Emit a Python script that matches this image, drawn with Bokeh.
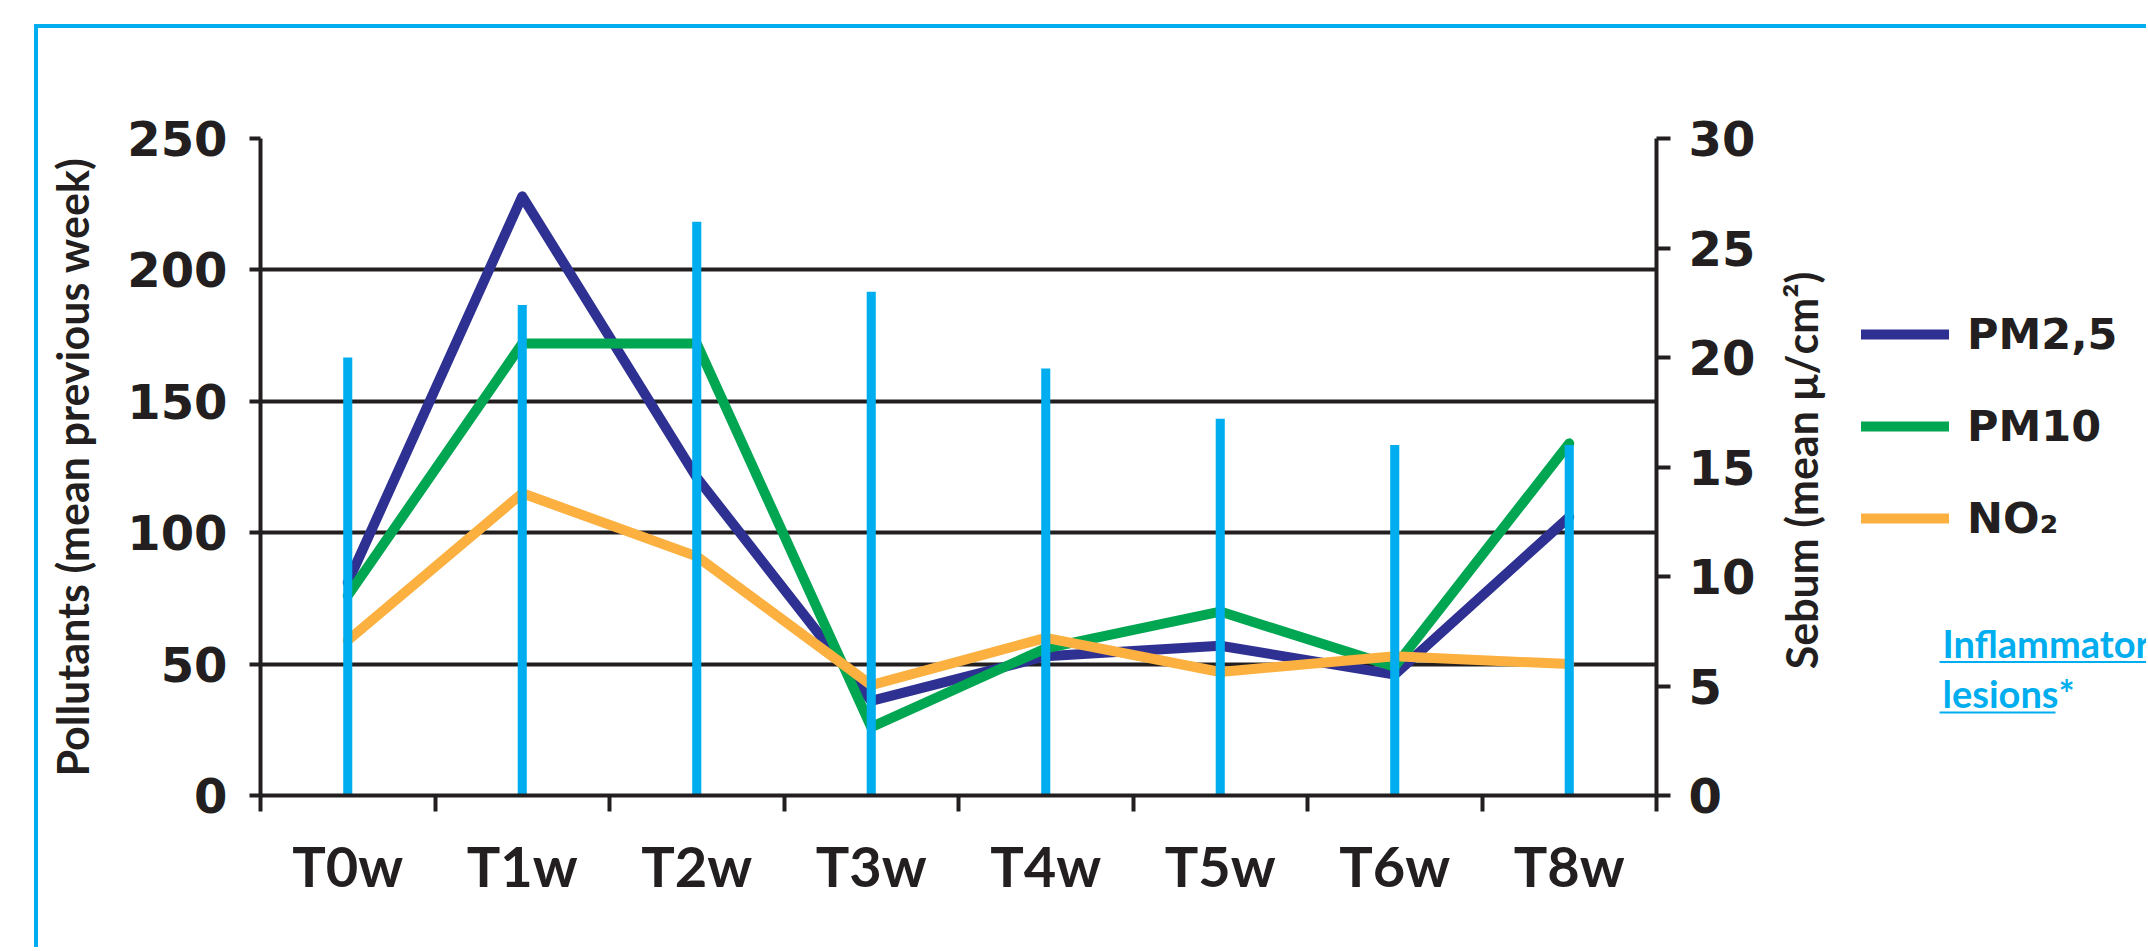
import math
from bokeh.plotting import figure
from bokeh.layouts import row, column
from bokeh.models import (Range1d, LinearAxis, FixedTicker, Legend, LegendItem,
                          Label, BoxAnnotation, Grid, Spacer)
from bokeh.embed import file_html
from bokeh.resources import INLINE

# ---------------- data ----------------
categories = ["T0w", "T1w", "T2w", "T3w", "T4w", "T5w", "T6w", "T8w"]
pm25 = [81, 228, 121, 36, 53, 57, 46, 106]
pm10 = [76, 172, 172, 26, 56, 70, 49, 134]
no2 = [59, 115, 91, 42, 60, 47, 53, 50]
sebum = [20.0, 22.4, 26.2, 23.0, 19.5, 17.2, 16.0, 16.0]
left_ticks = [0, 50, 100, 150, 200, 250]
right_ticks = [0, 5, 10, 15, 20, 25, 30]
series_names = ["PM2,5", "PM10", "NO₂"]
series_colors = ["#2E3192", "#00A651", "#FBB040"]

# ---------------- style ----------------
DARK = "#231F20"
BLUE = "#00AEEF"
NCAT = len(categories)
YMAX = 250
LW = 10

# page geometry
X0, Y0 = 38, 28           # top-left of the chart area (inside blue frame)
WA, HT = 1726, 919
WB = 2146 - X0 - WA
FL, FR, FT, FB = 222, 1618, 110, 767   # frame edges in figure A (canvas px)

# ---------------- main chart ----------------
pA = figure(width=WA, height=HT, x_range=Range1d(0, NCAT), y_range=Range1d(0, YMAX),
            output_backend="svg", toolbar_location=None,
            x_axis_type=None, y_axis_type=None,
            min_border_left=FL, min_border_right=WA - FR,
            min_border_top=FT, min_border_bottom=HT - FB)
pA.outline_line_color = None
pA.extra_y_ranges = {"sebum": Range1d(0, 30)}

xs = [i + 0.5 for i in range(NCAT)]

xaxis = LinearAxis(ticker=FixedTicker(ticks=xs, minor_ticks=list(range(NCAT + 1))),
                   major_label_overrides={x: c for x, c in zip(xs, categories)})
xaxis.major_tick_out = 0
xaxis.major_tick_in = 0
xaxis.minor_tick_out = 16
xaxis.minor_tick_in = 0
xaxis.minor_tick_line_width = 4
xaxis.minor_tick_line_color = DARK
xaxis.axis_line_color = DARK
xaxis.axis_line_width = 4
xaxis.major_label_standoff = 20
xaxis.major_label_text_font = "Lato"
xaxis.major_label_text_font_style = "bold"
xaxis.major_label_text_font_size = "56px"
xaxis.major_label_text_color = DARK
pA.add_layout(xaxis, "below")

yaxis = LinearAxis(ticker=FixedTicker(ticks=left_ticks),
                   axis_label="Pollutants (mean previous week)")
yaxis.major_tick_out = 11
yaxis.major_tick_in = 0
yaxis.minor_tick_out = 0
yaxis.minor_tick_in = 0
yaxis.major_tick_line_width = 4
yaxis.major_tick_line_color = DARK
yaxis.axis_line_color = DARK
yaxis.axis_line_width = 4
yaxis.major_label_standoff = 22
yaxis.major_label_text_font = "DejaVu Sans"
yaxis.major_label_text_font_style = "bold"
yaxis.major_label_text_font_size = "48px"
yaxis.major_label_text_color = DARK
yaxis.axis_label_standoff = 26
yaxis.axis_label_text_font = "Lato"
yaxis.axis_label_text_font_style = "bold"
yaxis.axis_label_text_font_size = "43px"
yaxis.axis_label_text_color = DARK
pA.add_layout(yaxis, "left")

raxis = LinearAxis(y_range_name="sebum", ticker=FixedTicker(ticks=right_ticks))
raxis.major_tick_out = 14
raxis.major_tick_in = 0
raxis.minor_tick_out = 0
raxis.minor_tick_in = 0
raxis.major_tick_line_width = 4
raxis.major_tick_line_color = DARK
raxis.axis_line_color = DARK
raxis.axis_line_width = 4
raxis.major_label_standoff = 18
raxis.major_label_text_font = "DejaVu Sans"
raxis.major_label_text_font_style = "bold"
raxis.major_label_text_font_size = "48px"
raxis.major_label_text_color = DARK
pA.add_layout(raxis, "right")

pA.add_layout(Grid(dimension=1, ticker=yaxis.ticker, grid_line_color=DARK,
                   grid_line_width=4))

for vals, col in zip([pm25, pm10, no2], series_colors):
    pA.line(xs, vals, line_color=col, line_width=LW,
            line_join="round", line_cap="round")

pA.vbar(x=xs, top=sebum, bottom=0, width=0.052, y_range_name="sebum",
        fill_color=BLUE, line_color=None)

# ---------------- side panel (legend, right title, note) ----------------
# frame of the side panel shares the vertical extent of the main frame
XB = X0 + WA                 # page x of side panel
PAGE_FT, PAGE_FB = Y0 + FT, Y0 + FB   # page y of frame top / bottom
FH = PAGE_FB - PAGE_FT


def bx(page_x):
    return page_x - XB


def by(page_y):
    return PAGE_FB - page_y


pB = figure(width=WB, height=HT, x_range=Range1d(0, WB), y_range=Range1d(0, FH),
            output_backend="svg", toolbar_location=None,
            x_axis_type=None, y_axis_type=None,
            min_border_left=0, min_border_right=0,
            min_border_top=FT, min_border_bottom=HT - FB)
pB.outline_line_color = None

nan = float("nan")
key_renderers = [pB.line(x=[nan, nan], y=[nan, nan], line_color=c, line_width=LW,
                         line_cap="round")
                 for c in series_colors]
LEG_TOP, LEG_H = 304, 3 * 60 + 2 * 32
legend = Legend(items=[LegendItem(label=n, renderers=[r])
                       for n, r in zip(series_names, key_renderers)],
                location=(bx(1861), by(LEG_TOP) - LEG_H),
                orientation="vertical",
                glyph_width=88, glyph_height=60, label_height=60, spacing=32,
                label_standoff=18, padding=0, margin=0,
                border_line_alpha=0, background_fill_alpha=0,
                label_text_font="DejaVu Sans", label_text_font_style="bold",
                label_text_font_size="43px", label_text_color=DARK)
pB.add_layout(legend)

pB.add_layout(Label(x=bx(1801), y=by(470), text="Sebum (mean μ/cm²)", angle=math.pi / 2,
                    text_align="center", text_baseline="middle",
                    text_font="Lato", text_font_style="bold", text_font_size="43px",
                    text_color=DARK))

for txt, mid in [("Inflammatory", 642), ("lesions*", 692)]:
    pB.add_layout(Label(x=bx(1942), y=by(mid), text=txt, text_align="left",
                        text_baseline="middle", text_font="Lato",
                        text_font_style="bold", text_font_size="38px", text_color=BLUE))
pB.add_layout(BoxAnnotation(left=bx(1939), right=bx(2400), top=by(660.5), bottom=by(662.5),
                            fill_color=BLUE, fill_alpha=1, line_alpha=0))
pB.add_layout(BoxAnnotation(left=bx(1939), right=bx(2055), top=by(711), bottom=by(713),
                            fill_color=BLUE, fill_alpha=1, line_alpha=0))

# ---------------- outer blue frame ----------------
top_bar = Spacer(width=2112, height=4, styles={"background-color": BLUE})
left_bar = Spacer(width=4, height=HT, styles={"background-color": BLUE})

root = row(Spacer(width=34, height=10),
           column(Spacer(width=10, height=24), top_bar, row(left_bar, pA, pB)))

open("out.html", "w").write(file_html(root, INLINE))
